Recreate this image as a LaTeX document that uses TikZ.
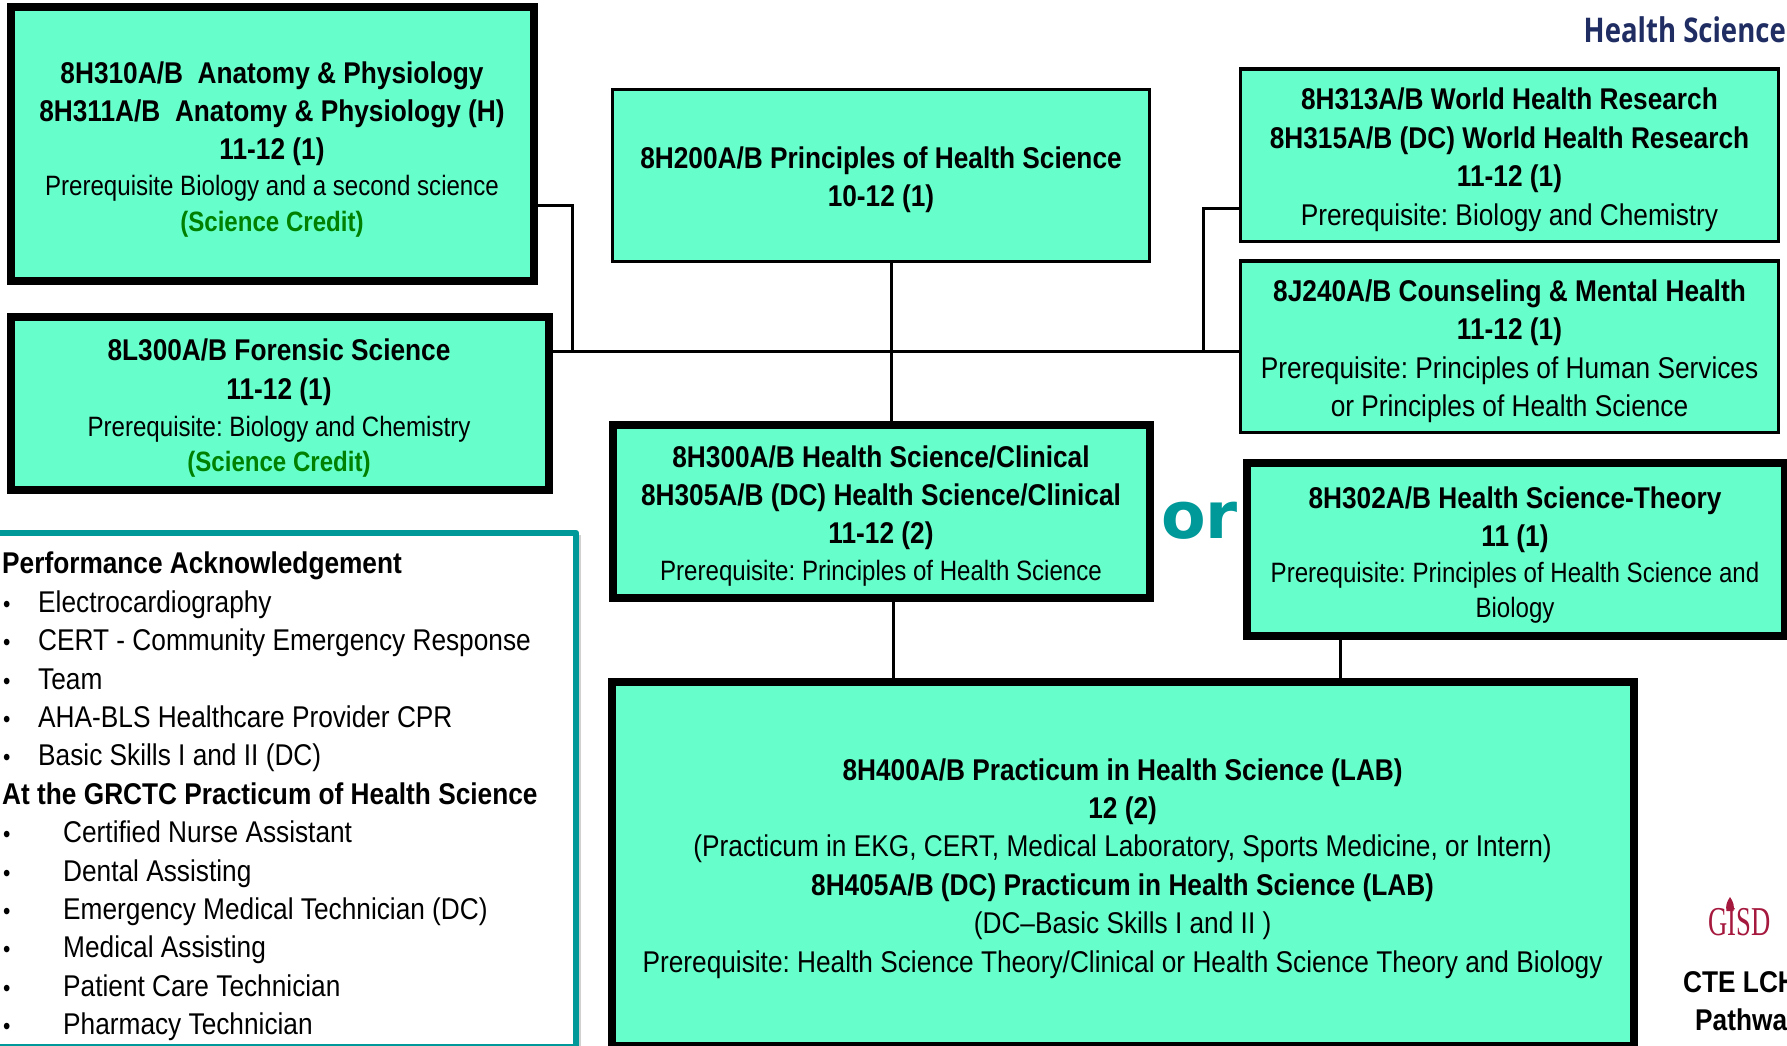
\documentclass[tikz,border=0pt]{standalone}
\usepackage{fontspec}
\usetikzlibrary{calc}
\setmainfont{Liberation Sans}
\newfontfamily\famB[FakeStretch=0.875]{Liberation Sans}
\newfontfamily\famR[FakeStretch=0.86]{Liberation Sans}
\newfontfamily\famHead[FakeStretch=0.81]{Open Sans}
\newfontfamily\famOr{DejaVu Sans}
\newfontfamily\famLogo[FakeStretch=0.65]{Liberation Serif}
\definecolor{boxfill}{HTML}{66FFCC}
\definecolor{tealc}{HTML}{009999}
\definecolor{credit}{HTML}{008000}
\definecolor{headc}{HTML}{1F2D63}
\definecolor{logoc}{HTML}{A6193E}
\newcommand{\Bd}[1]{{\frenchspacing\famB\bfseries\fontsize{30}{38}\selectfont #1}}
\newcommand{\Rg}[1]{{\frenchspacing\famR\fontsize{28}{38}\selectfont #1}}
\newcommand{\Rl}[1]{{\frenchspacing\famB\fontsize{30}{38}\selectfont #1}}
\newcommand{\Cr}[1]{{\frenchspacing\famR\bfseries\fontsize{28}{38}\selectfont\color{credit} #1}}
\newcommand{\Lb}[2]{\makebox[#1pt][l]{\makebox[9pt]{\fontsize{24}{24}\selectfont\textbullet}}#2}
\tikzset{
 x=1pt,y=-1pt,
 basebox/.style={draw=black,fill=boxfill,rectangle,inner sep=0pt},
 heavybox/.style={basebox,line width=8pt},
 lightbox/.style={basebox,line width=3.2pt},
 conn/.style={draw=black,line width=3pt},
 boxtext/.style={align=center,inner sep=0pt,anchor=north,text=black,font=\fontsize{30}{38}\selectfont},
}
\begin{document}
\begin{tikzpicture}
\path[use as bounding box,clip] (0,0) rectangle (1787,1045);
\fill[white] (0,0) rectangle (1787,1045);
% junctions
\coordinate (jc) at (891,351);
\coordinate (jl) at (572.5,205);
\coordinate (jr) at (1203,208);
\coordinate (jd) at (893,640);
\coordinate (jt) at (1340,640);
% boxes
\node[heavybox,minimum width=523pt,minimum height=274pt] (b310) at (272.5,144) {};
\node[heavybox,minimum width=537.6pt,minimum height=173pt] (b300l) at (279.8,403.5) {};
\node[lightbox,minimum width=537.3pt,minimum height=172pt] (b200) at (881.2,175.5) {};
\node[heavybox,minimum width=537.3pt,minimum height=173pt] (b300) at (881.3,511.5) {};
\node[lightbox,minimum width=538pt,minimum height=172.5pt] (b313) at (1509.5,155.2) {};
\node[lightbox,minimum width=538pt,minimum height=171.5pt] (b240) at (1509.5,346.8) {};
\node[heavybox,minimum width=538pt,minimum height=173pt] (b302) at (1516,549.5) {};
\node[heavybox,minimum width=1021.6pt,minimum height=364pt] (b400) at (1123.2,864) {};
% connectors
\draw[conn] (b300l.east |- jc) -- (b240.west |- jc);
\draw[conn] (b200.south -| jc) -- (b300.north -| jc);
\draw[conn] (b310.east |- jl) -- (jl) -- (jl |- jc);
\draw[conn] (b313.west |- jr) -- (jr) -- ($(jr |- jc)+(0,2)$);
\draw[conn] (b300.south -| jd) -- (b400.north -| jd);
\draw[conn] (b302.south -| jt) -- (b400.north -| jt);
% box texts
\node[boxtext] (t310) at (272,62) {\Bd{8H310A/B\ \ Anatomy \& Physiology}\\\Bd{8H311A/B\ \ Anatomy \& Physiology (H)}\\\Bd{11-12 (1)}\\[-2pt]\Rg{Prerequisite Biology and a second science}\\[-2pt]\Cr{(Science Credit)}};
\node[boxtext] (t300l) at (279,339) {\Bd{8L300A/B Forensic Science}\\[0.5pt]\Bd{11-12 (1)}\\[-1pt]\Rg{Prerequisite: Biology and Chemistry}\\[-3pt]\Cr{(Science Credit)}};
\node[boxtext] (t200) at (881,147) {\Bd{8H200A/B Principles of Health Science}\\\Bd{10-12 (1)}};
\node[boxtext] (t300) at (881,446) {\Bd{8H300A/B Health Science/Clinical}\\\Bd{8H305A/B (DC) Health Science/Clinical}\\\Bd{11-12 (2)}\\[-1pt]\Rg{Prerequisite: Principles of Health Science}};
\node[boxtext] (t313) at (1509.5,88) {\Bd{8H313A/B World Health Research}\\[0.5pt]\Bd{8H315A/B (DC) World Health Research}\\[0.5pt]\Bd{11-12 (1)}\\[0.5pt]\Rl{Prerequisite: Biology and Chemistry}};
\node[boxtext] (t240) at (1509.5,280) {\Bd{8J240A/B Counseling \& Mental Health}\\\Bd{11-12 (1)}\\[0.5pt]\Rl{Prerequisite: Principles of Human Services}\\\Rl{or Principles of Health Science}};
\node[boxtext] (t302) at (1515,487) {\Bd{8H302A/B Health Science-Theory}\\\Bd{11 (1)}\\[-2pt]\Rg{Prerequisite: Principles of Health Science and}\\[-3pt]\Rg{Biology}};
\node[boxtext] (t400) at (1122.6,759) {\Bd{8H400A/B Practicum in Health Science (LAB)}\\\Bd{12 (2)}\\\Rl{(Practicum in EKG, CERT, Medical Laboratory, Sports Medicine, or Intern)}\\[0.5pt]\Bd{8H405A/B (DC) Practicum in Health Science (LAB)}\\[0.5pt]\Rl{(DC–Basic Skills I and II )}\\[0.5pt]\Rl{Prerequisite: Health Science Theory/Clinical or Health Science Theory and Biology}};
% or
\node[inner sep=0pt,anchor=base west,text=tealc] (ortext) at (1161,538) {\famOr\bfseries\fontsize{65}{65}\selectfont or};
% performance panel
\fill[black!18] (-10,535) rectangle (581,1050);
\draw[draw=tealc,fill=white,line width=6.5pt,line join=round] (-10,533) rectangle (576,1047);
\node[inner sep=0pt,anchor=north west,align=left,text=black,font=\fontsize{30}{38.4}\selectfont] (perf) at (2,552) {%
\Bd{Performance Acknowledgement}\\
\Rl{\Lb{36}{Electrocardiography}}\\
\Rl{\Lb{36}{CERT - Community Emergency Response}}\\
\Rl{\Lb{36}{Team}}\\
\Rl{\Lb{36}{AHA-BLS Healthcare Provider CPR}}\\
\Rl{\Lb{36}{Basic Skills I and II (DC)}}\\
\Bd{At the GRCTC Practicum of Health Science}\\
\Rl{\Lb{61}{Certified Nurse Assistant}}\\
\Rl{\Lb{61}{Dental Assisting}}\\
\Rl{\Lb{61}{Emergency Medical Technician (DC)}}\\
\Rl{\Lb{61}{Medical Assisting}}\\
\Rl{\Lb{61}{Patient Care Technician}}\\
\Rl{\Lb{61}{Pharmacy Technician}}};
% header
\node[inner sep=0pt,anchor=base east,text=headc] (head) at (1786,42) {\famHead\bfseries\fontsize{34}{34}\selectfont Health Science};
% logo
\node[inner sep=0pt,anchor=base west,text=logoc] (logo) at (1708,935) {\famLogo\fontsize{41}{41}\selectfont GISD};
\fill[logoc] (1730,897) .. controls (1726.5,902) and (1725.5,906) .. (1726.5,911) -- (1733.5,911) .. controls (1734.5,906) and (1733.5,902) .. (1730,897) -- cycle;
% footer
\node[inner sep=0pt,anchor=base west] (cte) at (1683,992) {\Bd{CTE LCH}};
\node[inner sep=0pt,anchor=base west] (path) at (1695,1030) {\Bd{Pathwa}};
\end{tikzpicture}
\end{document}
